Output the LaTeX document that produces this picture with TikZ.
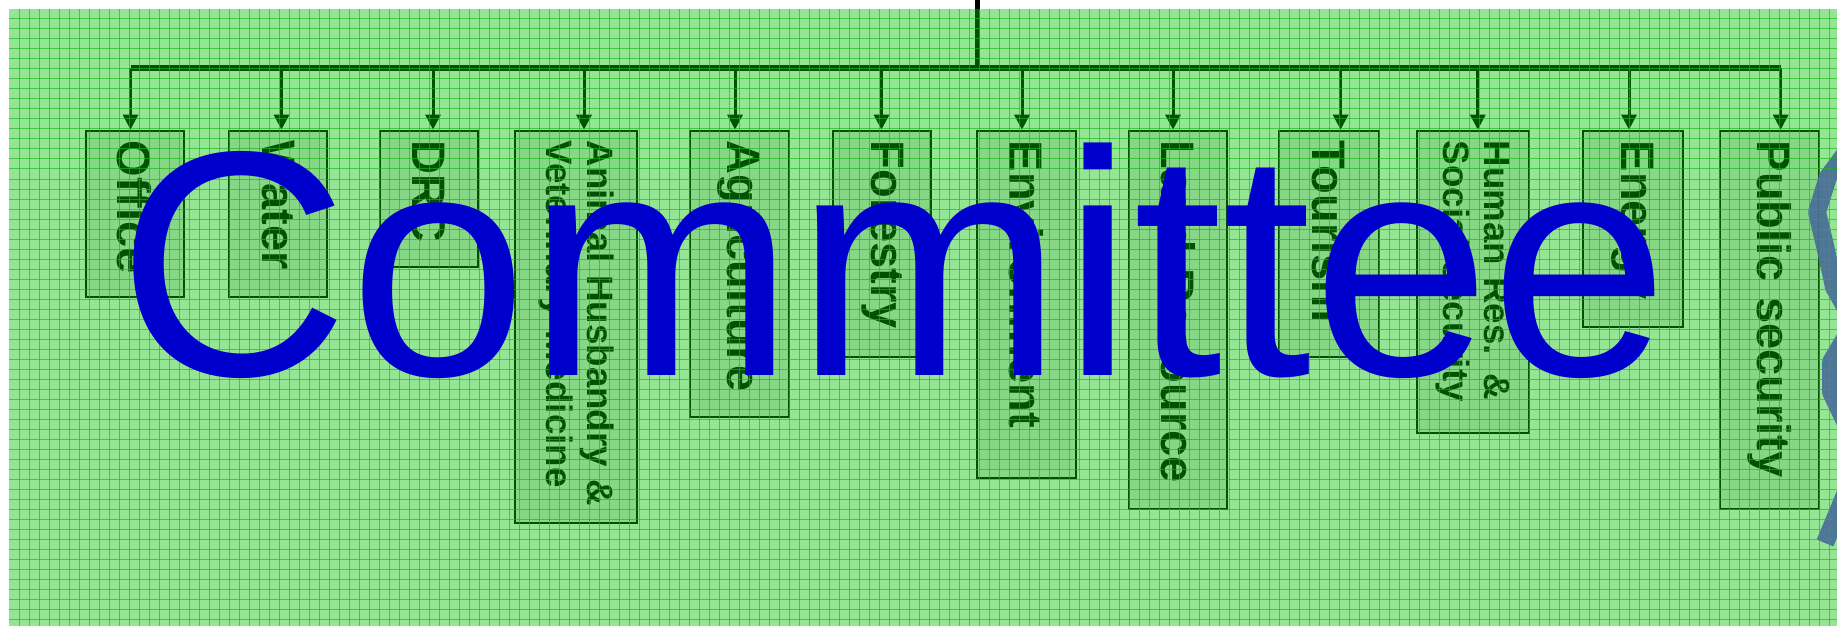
\documentclass[tikz,border=0pt]{standalone}
\usepackage{fontspec}
\setmainfont{Liberation Sans}
\usetikzlibrary{arrows.meta}
\definecolor{ovl}{RGB}{0,195,0}
\definecolor{gridc}{RGB}{25,185,25}
\definecolor{bandc}{RGB}{70,108,150}
\definecolor{cblue}{RGB}{0,0,204}
\begin{document}
\begin{tikzpicture}[x=0.5pt,y=-0.5pt,
  dept/.style={draw=black,line width=1pt,fill=black!9,rotate=-90,align=left,
    inner xsep=5pt,inner ysep=0pt,text=black,
    font=\bfseries\fontsize{23.5}{27}\selectfont},
  dept2/.style={dept,font=\bfseries\fontsize{18.35}{20.5}\selectfont},
  link/.style={draw=black,line width=1.5pt,-{Triangle[length=7.5pt,width=7.5pt]}},
  trunk/.style={draw=black,line width=2.6pt},
  bandline/.style={draw=bandc,line width=9pt,opacity=0.9},
  title/.style={text=cblue,anchor=base west,inner sep=0pt,
    font=\fontsize{160.5}{170}\selectfont}
]
\useasboundingbox (0,0) rectangle (1837,626);
\fill[white] (0,0) rectangle (1837,626);

% department boxes
\node[dept, minimum width=83pt, minimum height=49.25pt, text width=73pt] (office) at (134.75,213.7) {Office};
\node[dept, minimum width=83pt, minimum height=49.2pt, text width=73pt] (water) at (278.2,213.7) {Water};
\node[dept, minimum width=68pt, minimum height=49.4pt, text width=58pt] (drc) at (429,198.7) {DRC};
\node[dept2, minimum width=196.3pt, minimum height=61pt, text width=186.3pt] (animal) at (576.3,327) {Animal Husbandry \&\\Veterinary Medicine};
\node[dept, minimum width=143.15pt, minimum height=49.3pt, text width=133.15pt] (agri) at (739.3,273.85) {Agriculture};
\node[dept, minimum width=113.15pt, minimum height=49pt, text width=103.15pt] (forest) at (882.4,243.85) {Forestry};
\node[dept, minimum width=173.65pt, minimum height=49.5pt, text width=163.65pt] (env) at (1026.3,304.35) {Environment};
\node[dept, minimum width=189.15pt, minimum height=49.15pt, text width=179.15pt] (land) at (1177.8,319.85) {Land Resource};
\node[dept, minimum width=113.15pt, minimum height=49.85pt, text width=103.15pt] (tour) at (1329.2,243.85) {Tourism};
\node[dept2, minimum width=151.3pt, minimum height=56.35pt, text width=141.3pt] (human) at (1472.9,282) {Human Res. \&\\Social security};
\node[dept, minimum width=98.3pt, minimum height=49.6pt, text width=88.3pt] (energy) at (1633,229) {Energy};
\node[dept, minimum width=189.15pt, minimum height=49.6pt, text width=179.15pt] (public) at (1769.8,319.85) {Public security};

% connectors
\coordinate (top) at (977.5,0);
\coordinate (a1) at (130.5,68);
\coordinate (a2) at (281.5,68);
\coordinate (a3) at (433,68);
\coordinate (a4) at (584,68);
\coordinate (a5) at (735,68);
\coordinate (a6) at (881.5,68);
\coordinate (a7) at (1022,68);
\coordinate (a8) at (1173,68);
\coordinate (a9) at (1340.6,68);
\coordinate (a10) at (1477.8,68);
\coordinate (a11) at (1629,68);
\coordinate (a12) at (1780.7,68);
\draw[trunk] (top) -- (top |- a1);
\draw[trunk] (a1) -- (a12);
\draw[link] (a1) -- (a1 |- office.west);
\draw[link] (a2) -- (a2 |- water.west);
\draw[link] (a3) -- (a3 |- drc.west);
\draw[link] (a4) -- (a4 |- animal.west);
\draw[link] (a5) -- (a5 |- agri.west);
\draw[link] (a6) -- (a6 |- forest.west);
\draw[link] (a7) -- (a7 |- env.west);
\draw[link] (a8) -- (a8 |- land.west);
\draw[link] (a9) -- (a9 |- tour.west);
\draw[link] (a10) -- (a10 |- human.west);
\draw[link] (a11) -- (a11 |- energy.west);
\draw[link] (a12) -- (a12 |- public.west);

% green overlay
\fill[ovl, opacity=0.42] (9,9) rectangle (1837,626);

% partial shape at right edge
\begin{scope}
\clip (0,0) rectangle (1837,626);
\draw[bandline, line join=round] (1848,150) -- (1828,177) -- (1817,212) -- (1826,250) -- (1834,287) -- (1848,312);
\draw[bandline, line join=round] (1850,330) -- (1831,362) -- (1831,392) -- (1850,432);
\draw[bandline] (1825,543) -- (1852,478);
\end{scope}

% grid pattern
\begin{scope}[gridc, line width=0.5pt, opacity=0.65]
\foreach \gx in {19,29,...,1830} \draw (\gx,9) -- (\gx,626);
\foreach \gy in {19,29,...,620} \draw (9,\gy) -- (1837,\gy);
\end{scope}

% big title
\node[title] (cmte) at (117,375) {Committee};
\end{tikzpicture}
\end{document}
